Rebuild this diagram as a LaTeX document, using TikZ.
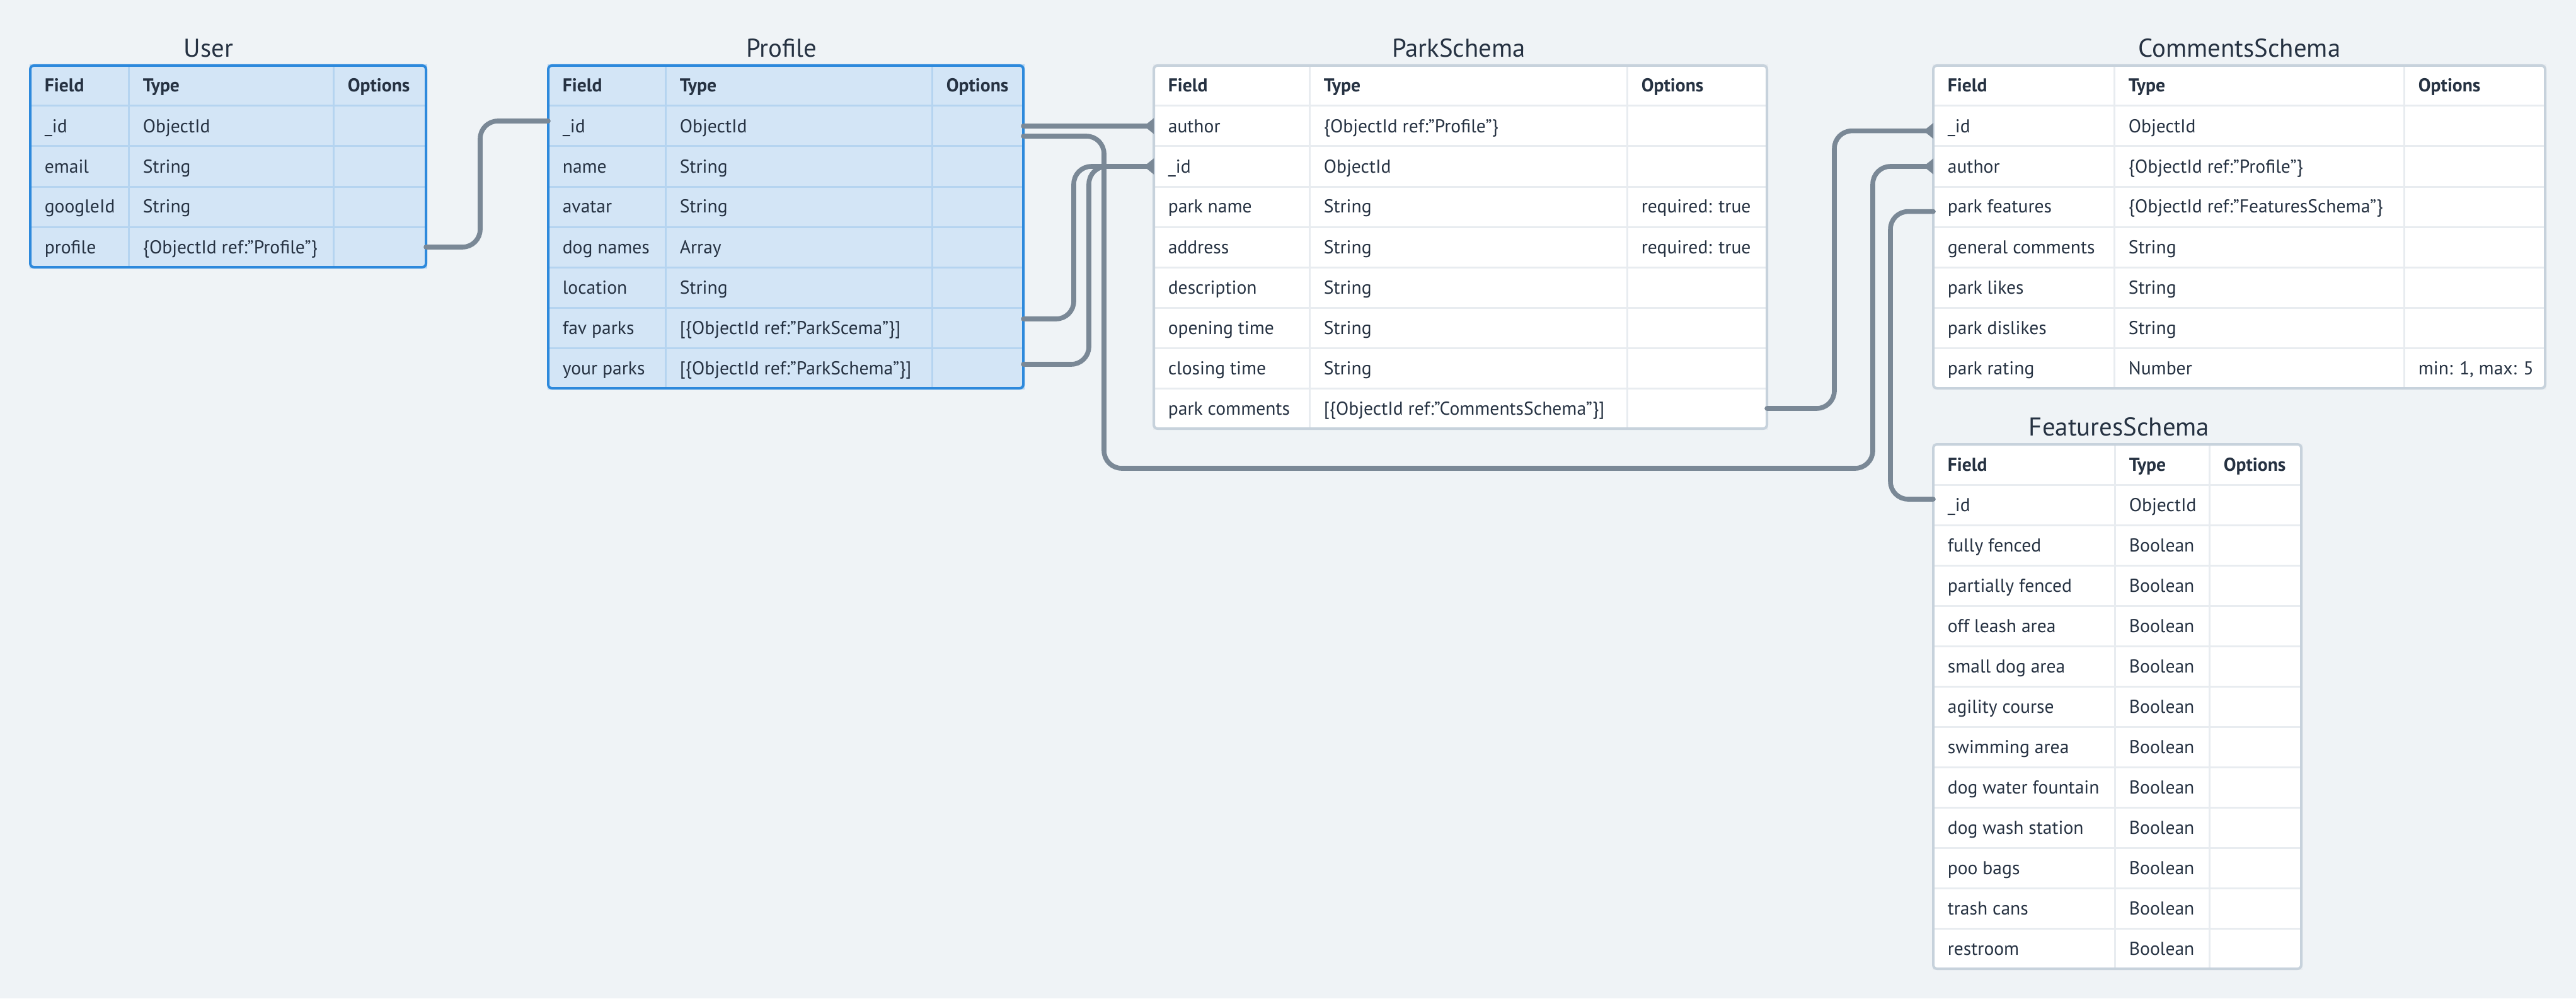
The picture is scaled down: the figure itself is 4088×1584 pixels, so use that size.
\documentclass[tikz,border=0pt]{standalone}
\usepackage{fontspec}
\setmainfont{PT Sans}
\usetikzlibrary{arrows.meta}

\definecolor{bgcol}{HTML}{EFF3F6}
\definecolor{inkcol}{HTML}{263242}
\definecolor{linkcol}{HTML}{7A8896}
\definecolor{bluefill}{HTML}{D3E5F6}
\definecolor{blueedge}{HTML}{2D89DC}
\definecolor{bluegrid}{HTML}{B5D4F0}
\definecolor{greyedge}{HTML}{C7D2DC}
\definecolor{greygrid}{HTML}{E8ECF0}

\tikzset{
  title/.style={font=\fontsize{10.2}{12}\selectfont, text=inkcol, inner sep=0pt, anchor=base},
  cell/.style={font=\fontsize{7.4}{9}\selectfont, text=inkcol, inner sep=0pt, anchor=base west},
  head/.style={cell, font=\fontsize{7.4}{9}\selectfont\bfseries},
  rowbox/.style={draw=#1, line width=0.75pt, inner sep=0pt, outer sep=0pt, anchor=north west, minimum height=16pt},
  bluerow/.style={rowbox=bluegrid, fill=bluefill},
  greyrow/.style={rowbox=greygrid, fill=white},
  bluegridline/.style={draw=bluegrid, line width=0.75pt},
  greygridline/.style={draw=greygrid, line width=0.75pt},
  blueframe/.style={draw=blueedge, line width=1pt, rounded corners=1.5pt},
  greyframe/.style={draw=greyedge, line width=1pt, rounded corners=1.5pt},
  link/.style={draw=linkcol, line width=1.9pt, line cap=round, rounded corners=7pt},
  crowtip/.style={-{Triangle[reversed, length=3.9pt, width=6pt]}},
}

\begin{document}
\begin{tikzpicture}[x=0.25pt, y=-0.25pt]
\fill[bgcol] (0,0) rectangle (4088,1584);
\useasboundingbox (0,0) rectangle (4088,1584);

% User
\foreach \i in {0,...,4}
  \node[bluerow, minimum width=157pt] (user-\i) at (48,{104+64*\i}) {};
\foreach \x in {204,529}
  \draw[bluegridline] (\x,104) -- (\x,424);
\draw[blueframe] (user-0.north west) rectangle (user-4.south east);
\node[title] (user-title) at (331,91) {User};
\foreach \h/\x [count=\k] in {Field/70,Type/226,Options/551}
  \node[head] (user-h\k) at (\x,146) {\h};
\foreach \fld/\typ/\opt [count=\i] in {\_id/ObjectId/{}, email/String/{}, googleId/String/{},
    profile/{\{ObjectId ref:"Profile"\}}/{}} {
  \node[cell] (user-f\i) at (70,{146+64*\i}) {\fld};
  \node[cell] (user-t\i) at (226,{146+64*\i}) {\typ};
  \node[cell] (user-o\i) at (551,{146+64*\i}) {\opt};
}

% Profile
\foreach \i in {0,...,7}
  \node[bluerow, minimum width=188.5pt] (profile-\i) at (870,{104+64*\i}) {};
\foreach \x in {1056,1479}
  \draw[bluegridline] (\x,104) -- (\x,616);
\draw[blueframe] (profile-0.north west) rectangle (profile-7.south east);
\node[title] (profile-title) at (1240,91) {Profile};
\foreach \h/\x [count=\k] in {Field/892,Type/1078,Options/1501}
  \node[head] (profile-h\k) at (\x,146) {\h};
\foreach \fld/\typ/\opt [count=\i] in {\_id/ObjectId/{}, name/String/{}, avatar/String/{},
    dog names/Array/{}, location/String/{},
    fav parks/{[\{ObjectId ref:"ParkScema"\}]}/{},
    your parks/{[\{ObjectId ref:"ParkSchema"\}]}/{}} {
  \node[cell] (profile-f\i) at (892,{146+64*\i}) {\fld};
  \node[cell] (profile-t\i) at (1078,{146+64*\i}) {\typ};
  \node[cell] (profile-o\i) at (1501,{146+64*\i}) {\opt};
}

% ParkSchema
\foreach \i in {0,...,8}
  \node[greyrow, minimum width=243.25pt] (park-\i) at (1831,{104+64*\i}) {};
\foreach \x in {2078,2582}
  \draw[greygridline] (\x,104) -- (\x,680);
\draw[greyframe] (park-0.north west) rectangle (park-8.south east);
\node[title] (park-title) at (2315,91) {ParkSchema};
\foreach \h/\x [count=\k] in {Field/1853,Type/2100,Options/2604}
  \node[head] (park-h\k) at (\x,146) {\h};
\foreach \fld/\typ/\opt [count=\i] in {author/{\{ObjectId ref:"Profile"\}}/{}, \_id/ObjectId/{},
    park name/String/{required: true}, address/String/{required: true},
    description/String/{}, opening time/String/{}, closing time/String/{},
    park comments/{[\{ObjectId ref:"CommentsSchema"\}]}/{}} {
  \node[cell] (park-f\i) at (1853,{146+64*\i}) {\fld};
  \node[cell] (park-t\i) at (2100,{146+64*\i}) {\typ};
  \node[cell] (park-o\i) at (2604,{146+64*\i}) {\opt};
}

% CommentsSchema
\foreach \i in {0,...,7}
  \node[greyrow, minimum width=242.75pt] (comments-\i) at (3068,{104+64*\i}) {};
\foreach \x in {3355,3815}
  \draw[greygridline] (\x,104) -- (\x,616);
\draw[greyframe] (comments-0.north west) rectangle (comments-7.south east);
\node[title] (comments-title) at (3554,91) {CommentsSchema};
\foreach \h/\x [count=\k] in {Field/3090,Type/3377,Options/3837}
  \node[head] (comments-h\k) at (\x,146) {\h};
\foreach \fld/\typ/\opt [count=\i] in {\_id/ObjectId/{}, author/{\{ObjectId ref:"Profile"\}}/{},
    park features/{\{ObjectId ref:"FeaturesSchema"\}}/{}, general comments/String/{},
    park likes/String/{}, park dislikes/String/{}, park rating/Number/{min: 1, max: 5}} {
  \node[cell] (comments-f\i) at (3090,{146+64*\i}) {\fld};
  \node[cell] (comments-t\i) at (3377,{146+64*\i}) {\typ};
  \node[cell] (comments-o\i) at (3837,{146+64*\i}) {\opt};
}

% FeaturesSchema
\foreach \i in {0,...,12}
  \node[greyrow, minimum width=146pt] (features-\i) at (3068,{705+64*\i}) {};
\foreach \x in {3356,3506}
  \draw[greygridline] (\x,705) -- (\x,1537);
\draw[greyframe] (features-0.north west) rectangle (features-12.south east);
\node[title] (features-title) at (3363,691) {FeaturesSchema};
\foreach \h/\x [count=\k] in {Field/3090,Type/3378,Options/3528}
  \node[head] (features-h\k) at (\x,747) {\h};
\foreach \fld/\typ [count=\i] in {\_id/ObjectId, fully fenced/Boolean, partially fenced/Boolean,
    off leash area/Boolean, small dog area/Boolean, agility course/Boolean,
    swimming area/Boolean, dog water fountain/Boolean, dog wash station/Boolean,
    poo bags/Boolean, trash cans/Boolean, restroom/Boolean} {
  \node[cell] (features-f\i) at (3090,{747+64*\i}) {\fld};
  \node[cell] (features-t\i) at (3378,{747+64*\i}) {\typ};
}

% links
\draw[link] (user-4.east) -- ++(86,0) |- ([yshift=2pt]profile-1.west);
\draw[link, crowtip] (profile-1.east) -- (park-1.west);
\draw[link, crowtip] ([yshift=-4pt]profile-1.east) -- ++(128,0) |- ++(1220,527) |- (comments-2.west);
\draw[link, crowtip] ([yshift=3.5pt]profile-6.east) -- ++(80,0) |- (park-2.west);
\draw[link, crowtip] ([yshift=1.5pt]profile-7.east) -- ++(104,0) |- (park-2.west);
\draw[link, crowtip] (park-8.east) -- ++(107,0) |- ([yshift=-1.9pt]comments-1.west);
\draw[link] ([yshift=-1.9pt]comments-3.west) -- ++(-68,0) |- ([yshift=2.25pt]features-1.west);
\end{tikzpicture}
\end{document}
